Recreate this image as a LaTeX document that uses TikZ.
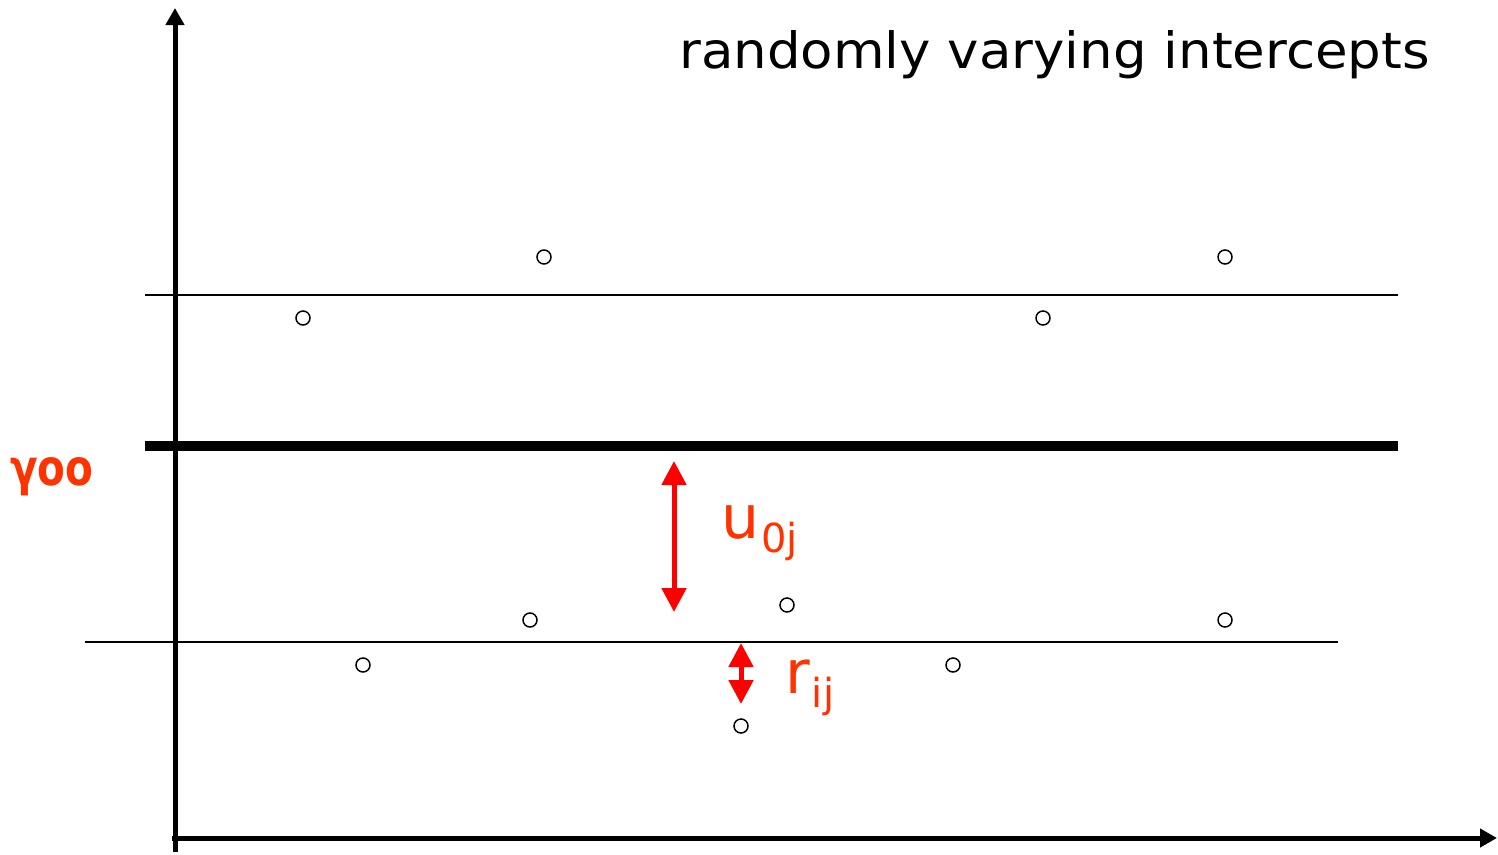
\documentclass[tikz,border=0pt]{standalone}
\usepackage{fontspec}
\setmainfont{DejaVu Sans}
\newfontfamily\titlefont[FakeStretch=1.06]{DejaVu Sans}
\newfontfamily\gammafont[FakeStretch=0.9]{DejaVu Sans Condensed}
\usetikzlibrary{arrows.meta}
\definecolor{lbl}{HTML}{FF3300}
\definecolor{arr}{HTML}{FF0000}
\newcommand{\mysub}[1]{\raisebox{-14pt}{\fontsize{40}{40}\selectfont #1}}
\tikzset{
  axis/.style={line width=5pt,-{Triangle[width=18pt,length=17pt]}},
  thinline/.style={line width=1.5pt},
  pt/.style={circle,draw,line width=1.5pt,minimum size=14pt,inner sep=0pt},
  redarrow/.style={line width=5pt,arr,{Triangle[width=24pt,length=24pt]}-{Triangle[width=24pt,length=24pt]}},
  lab/.style={text=lbl,inner sep=0pt,anchor=base west}
}
\begin{document}
\begin{tikzpicture}[x=1pt,y=-1pt]
\useasboundingbox (0,0) rectangle (1498,854);
% axes
\coordinate (ybot) at (175,852);
\coordinate (ytop) at (175,8);
\coordinate (xleft) at (172,838);
\coordinate (xright) at (1497,838);
\draw[axis] (ybot) -- (ytop);
\draw[axis] (xleft) -- (xright);
% lines
\coordinate (u1) at (145,295); \coordinate (u2) at (1398,295);
\coordinate (m1) at (145,446); \coordinate (m2) at (1398,446);
\coordinate (l1) at (85,642);  \coordinate (l2) at (1338,642);
\draw[thinline] (u1) -- (u2);
\draw[line width=10pt] (m1) -- (m2);
\draw[thinline] (l1) -- (l2);
% points
\node[pt] (p1) at (544,257) {};
\node[pt] (p2) at (1225,257) {};
\node[pt] (p3) at (303,318) {};
\node[pt] (p4) at (1043,318) {};
\node[pt] (p5) at (530,620) {};
\node[pt] (p6) at (787,605) {};
\node[pt] (p7) at (1225,620) {};
\node[pt] (p8) at (363,665) {};
\node[pt] (p9) at (953,665) {};
\node[pt] (p10) at (741,726) {};
% arrows
\coordinate (ua) at (674,461); \coordinate (ub) at (674,612);
\coordinate (ra) at (741,643); \coordinate (rb) at (741,704);
\draw[redarrow] (ua) -- (ub);
\draw[redarrow] (ra) -- (rb);
% labels
\node[lab,font=\fontsize{60}{60}\selectfont] (u) at (721,538) {u\hspace{2pt}\mysub{0j}};
\node[lab,font=\fontsize{60}{60}\selectfont] (r) at (785,693) {r\hspace{2pt}\mysub{ij}};
\node[lab,font=\gammafont\bfseries\fontsize{50}{50}\selectfont] (g) at (10,485) {γoo};
\node[inner sep=0pt,anchor=base east,font=\titlefont\fontsize{50}{50}\selectfont] (t) at (1430,68) {randomly varying intercepts};
\end{tikzpicture}
\end{document}
